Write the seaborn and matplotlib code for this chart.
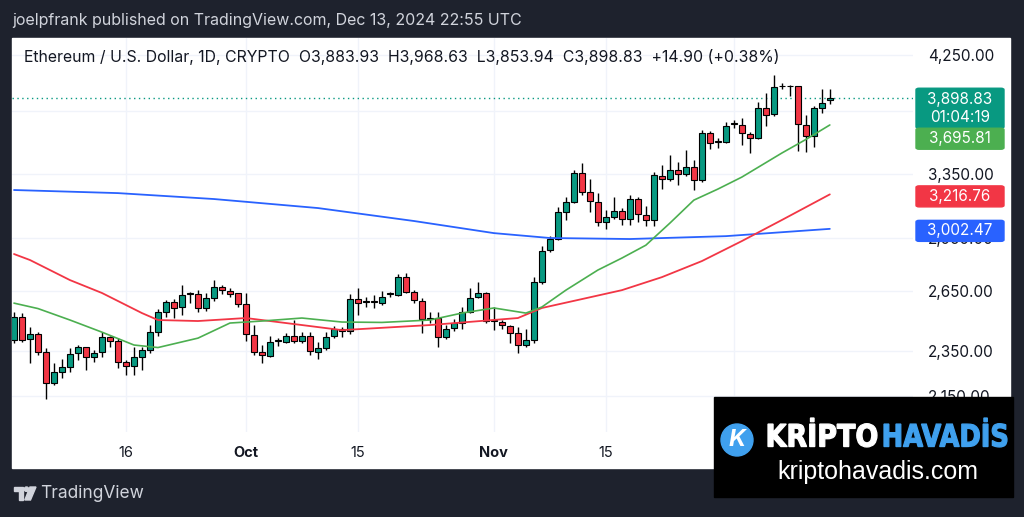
import matplotlib
matplotlib.use("Agg")
import matplotlib.pyplot as plt
import matplotlib.dates as mdates
import matplotlib.ticker as mticker
import numpy as np
import pandas as pd
import seaborn as sns
from matplotlib.patches import Rectangle, FancyBboxPatch, Ellipse, PathPatch, Polygon
from matplotlib.textpath import TextPath
from matplotlib.font_manager import FontProperties
from matplotlib.transforms import Affine2D

# --- daily ETH/USD candles, 2 Sep - 13 Dec 2024 ---
dates = pd.date_range("2024-09-02", "2024-12-13", freq="D")

opens = [
    2404, 2517, 2409, 2433, 2346, 2206, 2255, 2277, 2342, 2370, 2323, 2346, 2418, 2399, 2300,
    2282, 2323, 2356, 2442, 2542, 2594, 2568, 2636, 2636, 2563, 2614, 2672, 2651, 2641,
    2583, 2428, 2346, 2328, 2399, 2394, 2423, 2399, 2423, 2346, 2366, 2423, 2447, 2447, 2609,
    2594, 2599, 2588, 2636, 2630, 2726, 2646, 2599, 2507, 2512, 2418, 2462, 2487, 2542, 2620, 2641,
    2497, 2492, 2472, 2438, 2380, 2404, 2699, 2878, 2942, 3105, 3168, 3357, 3232, 3168, 3043,
    3074, 3111, 3062, 3187, 3086, 3056, 3337, 3316, 3377, 3350, 3397, 3310, 3636, 3572, 3572,
    3703, 3695, 3629, 3600, 3822, 3777, 3995, 3999, 3995, 3695, 3615, 3822, 3883.93,
]
highs = [
    2540, 2537, 2467, 2443, 2366, 2295, 2313, 2366, 2380, 2372, 2356, 2443, 2423, 2413, 2309,
    2370, 2370, 2477, 2557, 2604, 2609, 2683, 2646, 2656, 2641, 2710, 2683, 2667, 2641,
    2641, 2477, 2380, 2423, 2413, 2438, 2502, 2443, 2443, 2394, 2443, 2472, 2467, 2636, 2667,
    2620, 2630, 2651, 2646, 2743, 2748, 2656, 2614, 2542, 2542, 2477, 2507, 2568, 2667, 2699, 2646,
    2568, 2502, 2477, 2467, 2457, 2726, 2900, 2959, 3136, 3199, 3377, 3425, 3316, 3225, 3117,
    3199, 3130, 3212, 3199, 3143, 3363, 3411, 3480, 3432, 3515, 3445, 3658, 3651, 3600, 3717,
    3732, 3747, 3644, 3869, 3939, 4083, 4019, 4003, 3999, 3769, 3838, 3971, 3968.63,
]
lows = [
    2392, 2394, 2295, 2332, 2136, 2197, 2228, 2255, 2309, 2264, 2300, 2323, 2370, 2273, 2241,
    2241, 2264, 2342, 2423, 2517, 2512, 2527, 2588, 2542, 2547, 2599, 2636, 2620, 2568,
    2399, 2332, 2295, 2323, 2375, 2389, 2389, 2389, 2332, 2314, 2356, 2413, 2418, 2433, 2527,
    2568, 2563, 2578, 2620, 2625, 2641, 2588, 2438, 2487, 2370, 2409, 2447, 2457, 2537, 2614, 2487,
    2452, 2457, 2389, 2342, 2370, 2389, 2688, 2866, 2936, 3056, 3161, 3212, 3105, 3019, 3001,
    3062, 3025, 3025, 3043, 3019, 3019, 3251, 3303, 3277, 3337, 3245, 3297, 3522, 3529, 3564,
    3673, 3550, 3494, 3593, 3688, 3762, 3971, 3915, 3508, 3501, 3536, 3784, 3853.94,
]
closes = [
    2517, 2404, 2433, 2346, 2206, 2255, 2277, 2337, 2370, 2323, 2342, 2418, 2399, 2300, 2282,
    2323, 2356, 2442, 2542, 2594, 2563, 2630, 2642, 2563, 2614, 2672, 2656, 2636, 2583,
    2433, 2346, 2332, 2394, 2404, 2423, 2399, 2423, 2351, 2366, 2418, 2457, 2457, 2609, 2588,
    2599, 2594, 2620, 2641, 2726, 2646, 2604, 2507, 2512, 2418, 2457, 2487, 2542, 2614, 2641, 2497,
    2502, 2477, 2438, 2380, 2404, 2699, 2872, 2942, 3105, 3168, 3357, 3232, 3174, 3043, 3074,
    3111, 3062, 3187, 3092, 3056, 3343, 3316, 3377, 3350, 3397, 3310, 3636, 3564, 3578, 3688,
    3710, 3636, 3600, 3822, 3769, 3987, 3999, 3995, 3703, 3615, 3822, 3861, 3898.83,
]

# moving averages (sampled off the curves)
ma20_dates = ["2024-09-02", "2024-09-05", "2024-09-09", "2024-09-13", "2024-09-17", "2024-09-20",
              "2024-09-25", "2024-09-29", "2024-10-03", "2024-10-08", "2024-10-13", "2024-10-18",
              "2024-10-24", "2024-10-28", "2024-11-01", "2024-11-05", "2024-11-07", "2024-11-10",
              "2024-11-14", "2024-11-17", "2024-11-20", "2024-11-23", "2024-11-26", "2024-11-29",
              "2024-12-02", "2024-12-07", "2024-12-10", "2024-12-13"]
ma20 = [2588, 2560, 2502, 2442, 2380, 2368, 2413, 2487, 2497, 2512, 2492, 2490, 2502, 2537,
        2563, 2537, 2568, 2656, 2765, 2832, 2906, 3037, 3180, 3251, 3330, 3494, 3590, 3695.81]

ma50_dates = ["2024-09-02", "2024-09-04", "2024-09-09", "2024-09-13", "2024-09-18", "2024-09-20",
              "2024-09-25", "2024-10-01", "2024-10-08", "2024-10-13", "2024-10-24", "2024-11-04",
              "2024-11-07", "2024-11-12", "2024-11-17", "2024-11-22", "2024-11-27", "2024-12-02",
              "2024-12-07", "2024-12-13"]
ma50 = [2855, 2821, 2710, 2641, 2537, 2502, 2497, 2512, 2477, 2452, 2477, 2512, 2563, 2609,
        2656, 2726, 2815, 2930, 3056, 3216.76]

ma200_dates = ["2024-09-02", "2024-09-15", "2024-09-27", "2024-10-10", "2024-10-22", "2024-11-01",
               "2024-11-08", "2024-11-18", "2024-11-30", "2024-12-13"]
ma200 = [3245, 3225, 3187, 3130, 3050, 2977, 2948, 2942, 2959, 3002.47]

price_ticks = [2150, 2350, 2650, 2950, 3350, 3800, 4250]
date_ticks = ["2024-09-16", "2024-10-01", "2024-10-15", "2024-11-01", "2024-11-15", "2024-12-01"]
# the Dec label sits under the watermark box in the original, so it is left blank
date_labels = ["16", "Oct", "15", "Nov", "15", ""]

UP, DOWN = "#089981", "#f23645"
BG = "#1e222d"
W, H = 1024, 517

sns.set_style("white")
plt.rcParams["font.family"] = ["Inter", "DejaVu Sans"]

fig = plt.figure(figsize=(W / 100, H / 100), dpi=100, facecolor=BG)


def fx(x):
    return x / W


def fy(y):
    return 1 - y / H


# white chart panel
fig.patches.append(Rectangle((fx(12), fy(468)), fx(1010) - fx(12), fy(38) - fy(468),
                             transform=fig.transFigure, color="white", zorder=-1))

ax = fig.add_axes([fx(12), fy(432), fx(913) - fx(12), fy(38) - fy(432)])
ax.set_facecolor("white")
ax.set_yscale("log")
ax.set_ylim(2000, 4398)
oct1 = mdates.date2num(pd.Timestamp("2024-10-01"))
ax.set_xlim(oct1 - 29.25, oct1 + 83.4)

x = mdates.date2num(dates)
o, h, l, c = map(np.asarray, (opens, highs, lows, closes))
colors = [UP if cc >= oo else DOWN for oo, cc in zip(o, c)]

ax.vlines(x, l, h, color="black", lw=1, zorder=2)
ax.bar(x, np.abs(c - o), bottom=np.minimum(o, c), width=0.72, color=colors,
       edgecolor="black", linewidth=0.8, zorder=3)

sns.lineplot(x=mdates.date2num(pd.to_datetime(ma200_dates)), y=ma200, ax=ax,
             color="#2962ff", lw=1.3, zorder=4)
sns.lineplot(x=mdates.date2num(pd.to_datetime(ma50_dates)), y=ma50, ax=ax,
             color="#f23645", lw=1.3, zorder=4)
sns.lineplot(x=mdates.date2num(pd.to_datetime(ma20_dates)), y=ma20, ax=ax,
             color="#4caf50", lw=1.2, zorder=4)

ax.axhline(c[-1], color=UP, lw=1, ls=(0, (1, 2.5)), zorder=1)

# axes / grid
ax.set_axisbelow(True)
ax.grid(True, color="#f0f3fa", lw=1)
for s in ax.spines.values():
    s.set_visible(False)
ax.yaxis.set_major_locator(mticker.FixedLocator(price_ticks))
ax.yaxis.set_minor_locator(mticker.NullLocator())
# the 3,800 label sits fully under the last-price tag, so it is left blank
ax.yaxis.set_major_formatter(mticker.FuncFormatter(lambda v, _: "" if v == 3800 else f"{v:,.2f}"))
ax.yaxis.tick_right()
ax.tick_params(axis="y", length=0, pad=10.8, labelsize=11, labelcolor="#131722")
ax.set_xticks(mdates.date2num(pd.to_datetime(date_ticks)))
ax.set_xticklabels(date_labels)
ax.tick_params(axis="x", length=0, pad=10.4, labelsize=10.5, labelcolor="#131722")
for t in ax.get_xticklabels():
    if t.get_text() and not t.get_text().isdigit():
        t.set_fontweight("bold")
ax.set_xlabel("")
ax.set_ylabel("")

# header texts
fig.text(fx(12), fy(20), "joelpfrank published on TradingView.com, Dec 13, 2024 22:55 UTC",
         color="#d1d4dc", size=11.5, va="center")
chg = c[-1] - o[-1]
header = (f"Ethereum / U.S. Dollar, 1D, CRYPTO  O{o[-1]:,.2f}  H{h[-1]:,.2f}  "
          f"L{l[-1]:,.2f}  C{c[-1]:,.2f}  {chg:+.2f} ({chg / o[-1] * 100:+.2f}%)")
fig.text(fx(24), fy(57), header, color="#131722", size=11.4, va="center")


# price tags on the scale
def ypix(v):
    return H - ax.transData.transform((ax.get_xlim()[0], v))[1]


def tag(top, height, color):
    fig.patches.append(FancyBboxPatch((fx(916), fy(top + height)), fx(1004) - fx(916),
                                      fy(top) - fy(top + height),
                                      boxstyle="round,pad=0,rounding_size=0.003",
                                      transform=fig.transFigure, color=color, zorder=2))


def tag_text(y, s):
    fig.text(fx(960), fy(y), s, color="white", size=11, ha="center", va="center", zorder=3)


yc = ypix(c[-1])
tag(yc - 10, 40, UP)
tag_text(yc + 1, f"{c[-1]:,.2f}")
tag_text(yc + 19, "01:04:19")
tag(yc + 30, 21, "#4caf50")
tag_text(yc + 40.5, f"{ma20[-1]:,.2f}")
for val, col in ((ma50[-1], "#f23645"), (ma200[-1], "#2962ff")):
    yy = ypix(val) + 2
    tag(yy - 10.5, 21, col)
    tag_text(yy, f"{val:,.2f}")

# TradingView footer
LOGO = "#d1d4dc"
pix = Affine2D().scale(1 / W, -1 / H).translate(0, 1) + fig.transFigure
fig.patches.append(Polygon([(14, 487), (23, 487), (23, 500), (18.5, 500), (18.5, 491.3), (14, 491.3)],
                           transform=pix, color=LOGO, zorder=2))
fig.patches.append(Ellipse((26.5, 489.2), 4.4, 4.4, transform=pix, color=LOGO, zorder=2))
fig.patches.append(Polygon([(30, 487), (36, 487), (30.5, 500), (24.8, 500)],
                           transform=pix, color=LOGO, zorder=2))
fig.text(fx(40), fy(494), "TradingView", color=LOGO, size=12.5, va="center")

# watermark logo box
fig.patches.append(Rectangle((fx(714), fy(497)), fx(1013) - fx(714), fy(397) - fy(497),
                             transform=fig.transFigure, color="black", zorder=5))
fig.patches.append(Ellipse((737, 440), 32, 32, transform=pix, color="#3fa0ee", zorder=6))
fig.text(fx(737), fy(440), "K", color="white", size=17, weight="bold", style="italic",
         ha="center", va="center", zorder=7)

bold = FontProperties(family="DejaVu Sans", weight="bold")


def fitted_word(s, left, top, right, bottom, color):
    tp = TextPath((0, 0), s, size=50, prop=bold)
    ext = tp.get_extents()
    sx = (right - left) / ext.width
    sy = (bottom - top) / ext.height
    tr = Affine2D().translate(-ext.x0, -ext.y1).scale(sx, -sy).translate(left, top) + pix
    fig.patches.append(PathPatch(tp, transform=tr, facecolor=color, edgecolor=color,
                                 lw=0.9, zorder=7))


fitted_word("KRİPTO", 768, 418, 877, 447, "white")
fitted_word("HAVADİS", 884, 418, 1007, 447, "#3fa0ee")
fig.text(fx(878), fy(472), "kriptohavadis.com", color="white", size=18,
         family=["Liberation Sans", "DejaVu Sans"], ha="center", va="center", zorder=7)

fig.savefig("out.png", dpi=100, facecolor=BG)
